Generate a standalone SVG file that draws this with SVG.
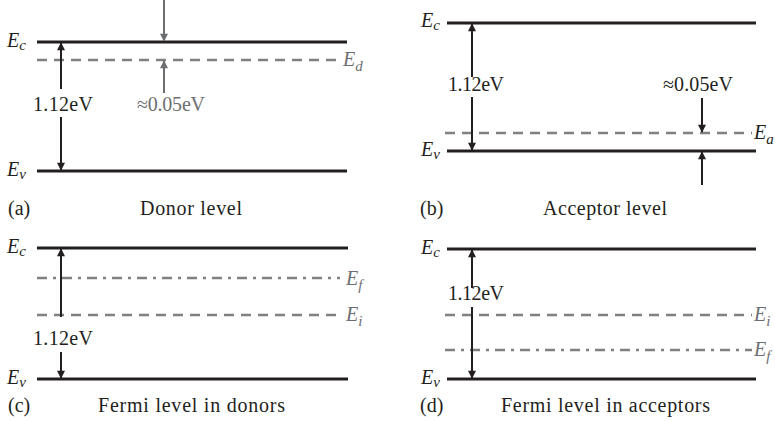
<svg xmlns="http://www.w3.org/2000/svg" width="775" height="421" viewBox="0 0 775 421">
<style>
text{font-family:"Liberation Serif","DejaVu Serif",serif;font-size:20px;fill:#231f20}
.g{fill:#6d6e71}
.e{font-style:italic;font-size:20px}
.s{font-size:15px}
.band{stroke:#231f20;stroke-width:3;fill:none}
.dash{stroke:#808080;stroke-width:2.5;stroke-dasharray:10 7;fill:none}
.dd{stroke:#808080;stroke-width:2.5;stroke-dasharray:10 6 3 6;fill:none}
.ar{stroke:#231f20;stroke-width:2;fill:none;marker-end:url(#ah)}
.arg{stroke:#6d6e71;stroke-width:2;fill:none;marker-end:url(#ahg)}
</style>
<defs>
<marker id="ah" viewBox="0 0 10 10" refX="9" refY="5" markerWidth="4.5" markerHeight="4" orient="auto" markerUnits="strokeWidth"><path d="M0,0 L10,5 L0,10 Z" fill="#231f20"/></marker>
<marker id="ahg" viewBox="0 0 10 10" refX="9" refY="5" markerWidth="4.5" markerHeight="4" orient="auto" markerUnits="strokeWidth"><path d="M0,0 L10,5 L0,10 Z" fill="#6d6e71"/></marker>
</defs>

<g id="panel-a">
<line class="band" x1="37" y1="42" x2="347" y2="42"/>
<line class="dash" x1="37" y1="60" x2="343" y2="60"/>
<line class="band" x1="37" y1="171" x2="347" y2="171"/>
<text class="e" x="7" y="47">E<tspan class="s" dy="3">c</tspan></text>
<text class="e g" x="343" y="66">E<tspan class="s" dy="5">d</tspan></text>
<text class="e" x="7" y="176">E<tspan class="s" dy="3">v</tspan></text>
<text x="33" y="111" textLength="60">1.12eV</text>
<text class="g" x="137" y="111" textLength="68">≈0.05eV</text>
<text x="8" y="215">(a)</text>
<text x="140" y="215" textLength="102">Donor level</text>
</g>

<g id="panel-b">
<line class="band" x1="447" y1="23" x2="756" y2="23"/>
<line class="dash" x1="445" y1="133" x2="752" y2="133"/>
<line class="band" x1="447" y1="151" x2="756" y2="151"/>
<text class="e" x="421" y="27">E<tspan class="s" dy="3">c</tspan></text>
<text class="e" x="754" y="139">E<tspan class="s" dy="5">a</tspan></text>
<text class="e" x="421" y="156">E<tspan class="s" dy="3">v</tspan></text>
<text x="448" y="91" textLength="56">1.12eV</text>
<text x="663" y="91" textLength="70">≈0.05eV</text>
<text x="420" y="215">(b)</text>
<text x="543" y="215" textLength="124">Acceptor level</text>
</g>

<g id="panel-c">
<line class="band" x1="37" y1="248" x2="348" y2="248"/>
<line class="dd" x1="37" y1="278" x2="340" y2="278"/>
<line class="dash" x1="37" y1="315" x2="340" y2="315"/>
<line class="band" x1="37" y1="379" x2="348" y2="379"/>
<text class="e" x="7" y="253">E<tspan class="s" dy="3">c</tspan></text>
<text class="e g" x="346" y="285">E<tspan class="s" dy="5">f</tspan></text>
<text class="e g" x="346" y="321">E<tspan class="s" dy="5">i</tspan></text>
<text class="e" x="7" y="384">E<tspan class="s" dy="3">v</tspan></text>
<text x="33" y="345" textLength="60">1.12eV</text>
<text x="8" y="412">(c)</text>
<text x="98" y="412" textLength="187">Fermi level in donors</text>
</g>

<g id="panel-d">
<line class="band" x1="447" y1="249" x2="756" y2="249"/>
<line class="dash" x1="445" y1="315" x2="752" y2="315"/>
<line class="dd" x1="445" y1="350" x2="752" y2="350"/>
<line class="band" x1="447" y1="379" x2="756" y2="379"/>
<text class="e" x="421" y="254">E<tspan class="s" dy="3">c</tspan></text>
<text class="e g" x="754" y="321">E<tspan class="s" dy="5">i</tspan></text>
<text class="e g" x="754" y="356">E<tspan class="s" dy="5">f</tspan></text>
<text class="e" x="421" y="384">E<tspan class="s" dy="3">v</tspan></text>
<text x="448" y="300" textLength="56">1.12eV</text>
<text x="420" y="412">(d)</text>
<text x="501" y="412" textLength="209">Fermi level in acceptors</text>
</g>

<g id="connectors">
<line class="ar" x1="61" y1="89" x2="61" y2="43"/>
<line class="ar" x1="61" y1="117" x2="61" y2="170"/>
<line class="arg" x1="164" y1="0" x2="164" y2="41"/>
<line class="arg" x1="164" y1="93" x2="164" y2="61"/>
<line class="ar" x1="472" y1="77" x2="472" y2="24"/>
<line class="ar" x1="472" y1="97" x2="472" y2="150"/>
<line class="ar" x1="702" y1="98" x2="702" y2="132"/>
<line class="ar" x1="702" y1="185" x2="702" y2="152"/>
<line class="ar" x1="61" y1="317" x2="61" y2="249"/>
<line class="ar" x1="61" y1="352" x2="61" y2="378"/>
<line class="ar" x1="472" y1="288" x2="472" y2="250"/>
<line class="ar" x1="472" y1="307" x2="472" y2="378"/>
</g>
</svg>
